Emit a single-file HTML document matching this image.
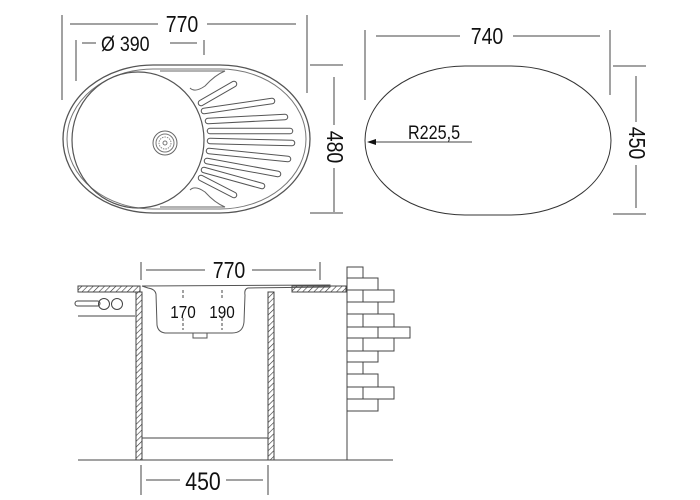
<!DOCTYPE html>
<html><head><style>
html,body{margin:0;padding:0;background:#fff;}
svg{display:block;}
text{font-family:"Liberation Sans",sans-serif;fill:#111;}
</style></head><body>
<svg width="700" height="500" viewBox="0 0 700 500" xmlns="http://www.w3.org/2000/svg">
<defs>
<pattern id="h" width="4" height="4" patternUnits="userSpaceOnUse" patternTransform="rotate(45)">
<line x1="0" y1="0" x2="0" y2="4" stroke="#333" stroke-width="1.2"/>
</pattern>
</defs>
<g stroke="#444" stroke-width="1" fill="none">
<line x1="62" y1="15" x2="62" y2="100"/>
<line x1="307" y1="15" x2="307" y2="93"/>
<line x1="70" y1="24" x2="158" y2="24"/><line x1="207" y1="24" x2="296" y2="24"/>
<line x1="76" y1="40" x2="76" y2="81"/>
<line x1="204" y1="40" x2="204" y2="55"/>
<line x1="82" y1="43" x2="96" y2="43"/><line x1="170" y1="43" x2="197" y2="43"/>
<line x1="310" y1="65" x2="343" y2="65"/><line x1="310" y1="213" x2="343" y2="213"/>
<line x1="334" y1="77" x2="334" y2="125"/><line x1="334" y1="168" x2="334" y2="212"/>
<rect x="63" y="65" width="247" height="148" rx="90" ry="74" stroke="#555" stroke-width="1.3"/>
<rect x="67" y="69" width="239" height="140" rx="86" ry="70" stroke="#777"/>
<path d="M160,71 L225,71 Q215,75 205,86 Q195,93 190,88" stroke="#666"/>
<path d="M160,207 L225,207 Q215,203 205,192 Q195,185 190,190" stroke="#666"/>
<ellipse cx="138" cy="140" rx="66" ry="68" stroke="#555" stroke-width="1.2"/>
<circle cx="165" cy="143" r="12" stroke="#666"/>
<circle cx="165" cy="143" r="9" stroke="#777"/>
<circle cx="165" cy="143" r="6" stroke="#888" stroke-dasharray="1.5 1"/>
<circle cx="165" cy="143" r="2" stroke="#777"/>
</g>
<g stroke-linecap="round" fill="none">
<g stroke="#555" stroke-width="6.5">
<line x1="201" y1="103" x2="234" y2="84"/>
<line x1="204" y1="111" x2="272" y2="101"/>
<line x1="208" y1="121" x2="285" y2="117"/>
<line x1="210" y1="131" x2="290" y2="131"/>
<line x1="210" y1="141" x2="292" y2="143"/>
<line x1="209" y1="151" x2="288" y2="159"/>
<line x1="207" y1="161" x2="278" y2="174"/>
<line x1="204" y1="170" x2="262" y2="186"/>
<line x1="201" y1="178" x2="234" y2="195"/>
</g>
<g stroke="#fff" stroke-width="4.5">
<line x1="201" y1="103" x2="234" y2="84"/>
<line x1="204" y1="111" x2="272" y2="101"/>
<line x1="208" y1="121" x2="285" y2="117"/>
<line x1="210" y1="131" x2="290" y2="131"/>
<line x1="210" y1="141" x2="292" y2="143"/>
<line x1="209" y1="151" x2="288" y2="159"/>
<line x1="207" y1="161" x2="278" y2="174"/>
<line x1="204" y1="170" x2="262" y2="186"/>
<line x1="201" y1="178" x2="234" y2="195"/>
</g>
</g>
<g stroke="#444" stroke-width="1" fill="none">
<line x1="365" y1="30" x2="365" y2="100"/>
<line x1="610" y1="30" x2="610" y2="95"/>
<line x1="376" y1="36" x2="460" y2="36"/><line x1="513" y1="36" x2="600" y2="36"/>
<rect x="365" y="66" width="246" height="149" rx="100" ry="75" stroke="#333"/>
<line x1="613" y1="66" x2="646" y2="66"/><line x1="613" y1="214" x2="646" y2="214"/>
<line x1="636" y1="76" x2="636" y2="122"/><line x1="636" y1="165" x2="636" y2="208"/>
<line x1="372" y1="142" x2="472" y2="142"/>
</g>
<path d="M367,142 L376,139 L376,145 Z" fill="#111"/>
<g stroke="#444" stroke-width="1" fill="none">
<line x1="141" y1="262" x2="141" y2="280"/><line x1="320" y1="262" x2="320" y2="280"/>
<line x1="146" y1="270" x2="205" y2="270"/><line x1="252" y1="270" x2="316" y2="270"/>
<rect x="78" y="286" width="62" height="6" fill="url(#h)"/>
<rect x="292" y="286" width="54" height="6" fill="url(#h)"/>
<rect x="136" y="292" width="6" height="168" fill="url(#h)"/>
<rect x="268" y="292" width="6" height="168" fill="url(#h)"/>
<path d="M142,286 L330,285 L330,287 L248,288 Q244,289 245,295 L244,322 Q243,333 232,333 L165,333 Q158,332 157,325 L156,294 Q155,289 148,288 Z" stroke="#555"/>
<rect x="193" y="333" width="14" height="5" stroke="#555"/>
<line x1="183" y1="290" x2="183" y2="300" stroke-dasharray="3 2"/><line x1="183" y1="318" x2="183" y2="330" stroke-dasharray="3 2"/>
<line x1="222" y1="290" x2="222" y2="300" stroke-dasharray="3 2"/><line x1="222" y1="318" x2="222" y2="330" stroke-dasharray="3 2"/>
<rect x="75" y="301" width="25" height="5" rx="2.5"/>
<circle cx="104" cy="304" r="5.5"/><circle cx="117" cy="304" r="5.5"/>
<line x1="78" y1="316" x2="135" y2="316"/>
<line x1="142" y1="438" x2="268" y2="438"/>
<line x1="78" y1="460" x2="393" y2="460"/>
<line x1="347" y1="267" x2="347" y2="460"/>
<line x1="141" y1="465" x2="141" y2="495"/><line x1="268" y1="465" x2="268" y2="495"/>
<line x1="146" y1="480" x2="180" y2="480"/><line x1="226" y1="480" x2="263" y2="480"/>
<rect x="347" y="267" width="16" height="11"/>
<rect x="347" y="278" width="31" height="12"/>
<rect x="347" y="290" width="16" height="12"/><rect x="363" y="290" width="31" height="12"/>
<rect x="347" y="302" width="31" height="12"/>
<rect x="347" y="314" width="16" height="13"/><rect x="363" y="314" width="31" height="13"/>
<rect x="347" y="327" width="31" height="11"/><rect x="378" y="327" width="32" height="11"/>
<rect x="347" y="338" width="16" height="13"/><rect x="363" y="338" width="31" height="13"/>
<rect x="347" y="351" width="31" height="11"/>
<rect x="347" y="362" width="16" height="12"/>
<rect x="347" y="374" width="31" height="13"/>
<rect x="347" y="387" width="16" height="12"/><rect x="363" y="387" width="31" height="12"/>
<rect x="347" y="399" width="31" height="12"/>
</g>
<text transform="translate(182,32) scale(0.85,1)" font-size="23" text-anchor="middle">770</text>
<text transform="translate(101,51) scale(0.85,1)" font-size="21">Ø 390</text>
<text transform="translate(327,147) rotate(90) scale(0.85,1)" font-size="23" text-anchor="middle">480</text>
<text transform="translate(487,44) scale(0.85,1)" font-size="23" text-anchor="middle">740</text>
<text transform="translate(629,143) rotate(90) scale(0.85,1)" font-size="23" text-anchor="middle">450</text>
<text transform="translate(408,139) scale(0.85,1)" font-size="19">R225,5</text>
<text transform="translate(229,278) scale(0.85,1)" font-size="23" text-anchor="middle">770</text>
<text transform="translate(183,318) scale(0.85,1)" font-size="18" text-anchor="middle">170</text>
<text transform="translate(222,318) scale(0.85,1)" font-size="18" text-anchor="middle">190</text>
<text transform="translate(203,490) scale(0.85,1)" font-size="25" text-anchor="middle">450</text>
</svg>
</body></html>
